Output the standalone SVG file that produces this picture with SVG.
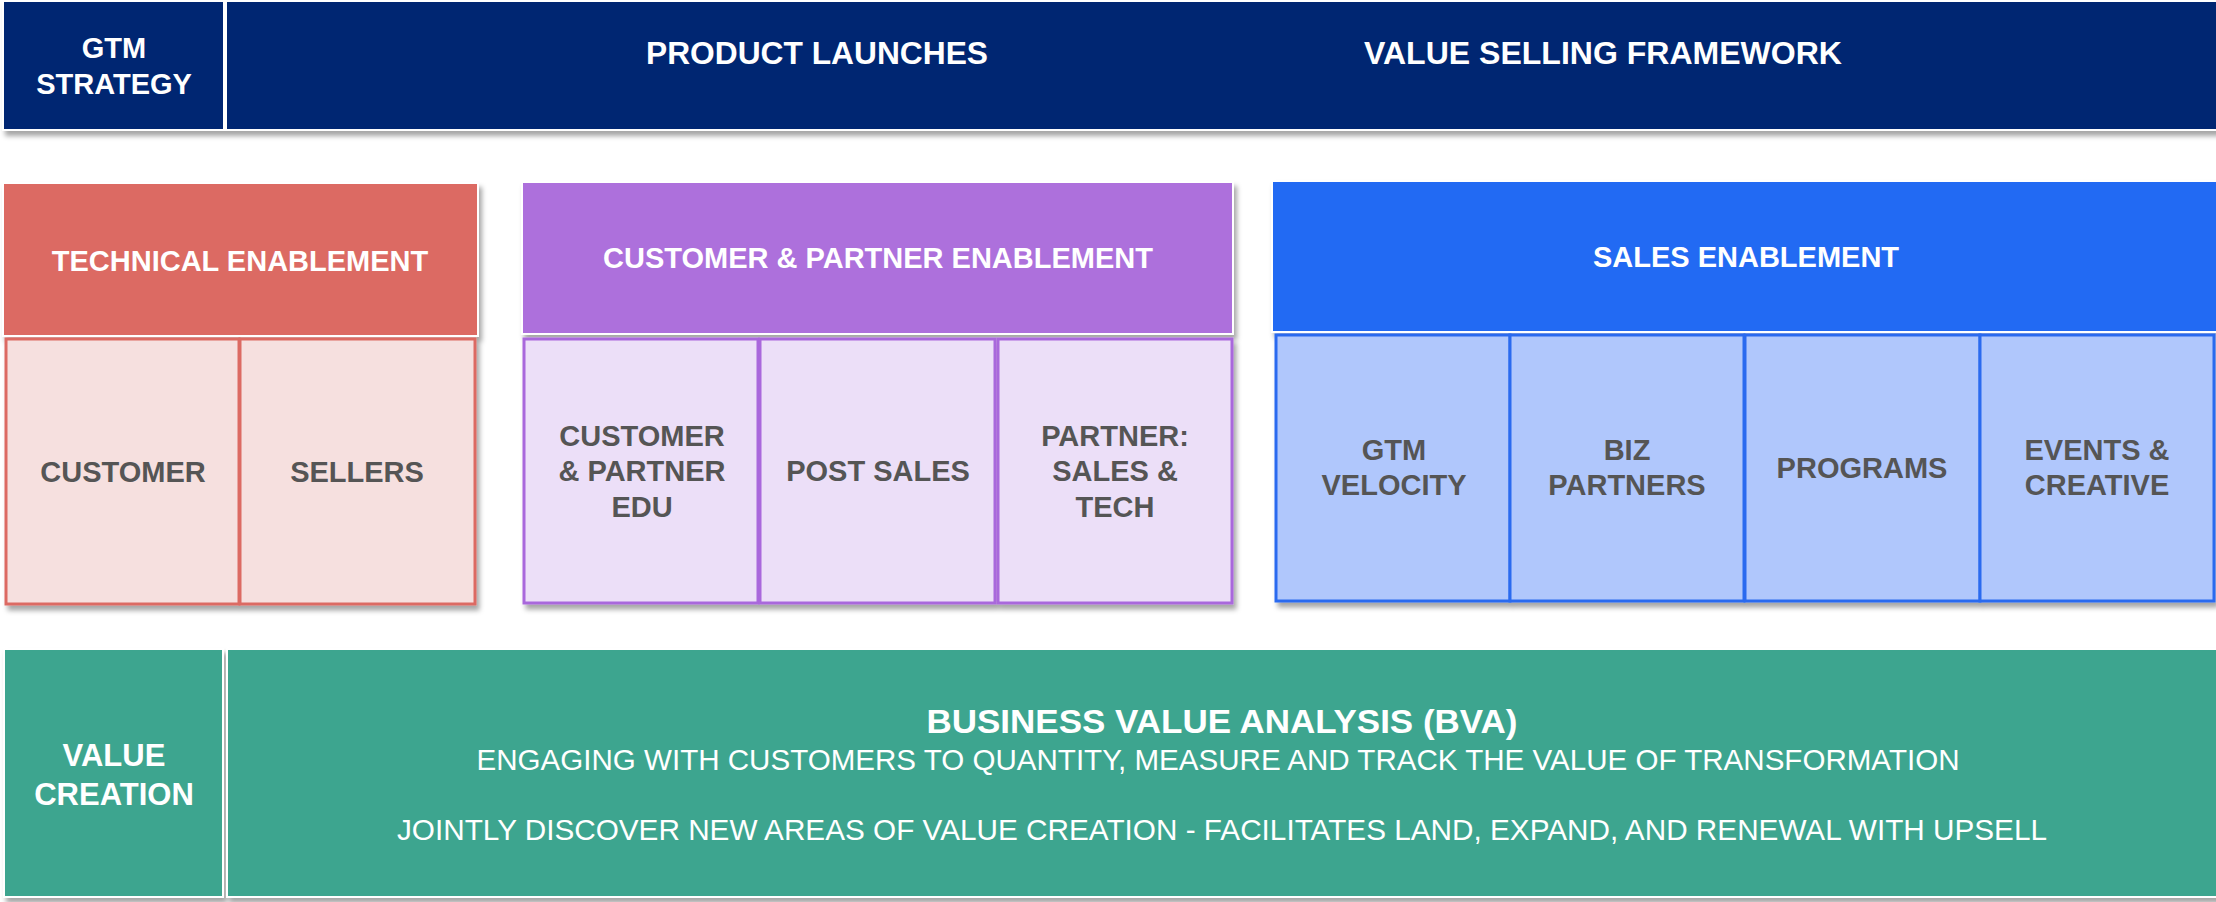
<svg xmlns="http://www.w3.org/2000/svg" width="2216" height="902" viewBox="0 0 2216 902">
<defs>
<filter id="sh" x="-5%" y="-5%" width="110%" height="115%">
<feDropShadow dx="3" dy="5" stdDeviation="2.5" flood-color="#000" flood-opacity="0.35"/>
</filter>
<style>
text{font-family:"Liberation Sans",Arial,sans-serif;text-anchor:middle}
.w{fill:#fff;font-weight:bold;font-size:29px}
.g{fill:#555555;font-weight:bold;font-size:29px}
.top{fill:#fff;font-weight:bold;font-size:32px}
.navy{fill:#012672;stroke:#fff;stroke-width:2}
.redh{fill:#dc6a63;stroke:#fff;stroke-width:2}
.reds{fill:#f6e0df;stroke:#dc6a63;stroke-width:3}
.purh{fill:#ad6fdc;stroke:#fff;stroke-width:2}
.purs{fill:#ecdff8;stroke:#a967dc;stroke-width:3}
.bluh{fill:#246bf3;stroke:#fff;stroke-width:2}
.blus{fill:#b0c7fc;stroke:#2a6bef;stroke-width:3}
.grn{fill:#3ca58f;stroke:#fff;stroke-width:2}
.bt{fill:#fff;font-size:30px}
</style>
</defs>
<rect width="2216" height="902" fill="#fff"/>

<g id="top-banner" filter="url(#sh)">
<rect class="navy" x="3" y="1" width="221" height="129"/>
<rect class="navy" x="226" y="1" width="1994" height="129"/>
</g>
<g id="gtm-strategy">
<text class="w" x="114" y="58">GTM</text>
<text class="w" x="114" y="94">STRATEGY</text>
</g>
<g id="product-launches"><text class="top" x="817" y="64" textLength="342" lengthAdjust="spacingAndGlyphs">PRODUCT LAUNCHES</text></g>
<g id="value-selling"><text class="top" x="1603" y="64" textLength="478" lengthAdjust="spacingAndGlyphs">VALUE SELLING FRAMEWORK</text></g>

<g id="technical-enablement">
<g filter="url(#sh)">
<rect class="redh" x="3" y="183" width="475" height="153"/>
<rect class="reds" x="6" y="339" width="233" height="265"/>
<rect class="reds" x="240" y="339" width="235" height="265"/>
</g>
<text class="w" x="240" y="271">TECHNICAL ENABLEMENT</text>
</g>
<g id="tech-customer"><text class="g" x="123" y="482">CUSTOMER</text></g>
<g id="tech-sellers"><text class="g" x="357" y="482">SELLERS</text></g>

<g id="customer-partner-enablement">
<g filter="url(#sh)">
<rect class="purh" x="522" y="182" width="711" height="152"/>
<rect class="purs" x="524" y="339" width="234" height="264"/>
<rect class="purs" x="760" y="339" width="235" height="264"/>
<rect class="purs" x="998" y="339" width="234" height="264"/>
</g>
<text class="w" x="878" y="268">CUSTOMER &amp; PARTNER ENABLEMENT</text>
</g>
<g id="cp-edu">
<text class="g" x="642" y="446">CUSTOMER</text>
<text class="g" x="642" y="481">&amp; PARTNER</text>
<text class="g" x="642" y="517">EDU</text>
</g>
<g id="post-sales"><text class="g" x="878" y="481">POST SALES</text></g>
<g id="partner-sales-tech">
<text class="g" x="1115" y="446">PARTNER:</text>
<text class="g" x="1115" y="481">SALES &amp;</text>
<text class="g" x="1115" y="517">TECH</text>
</g>

<g id="sales-enablement">
<g filter="url(#sh)">
<rect class="bluh" x="1272" y="181" width="950" height="151"/>
<rect class="blus" x="1276" y="335" width="234" height="266"/>
<rect class="blus" x="1510" y="335" width="234" height="266"/>
<rect class="blus" x="1745" y="335" width="235" height="266"/>
<rect class="blus" x="1980" y="335" width="234" height="266"/>
</g>
<text class="w" x="1746" y="267">SALES ENABLEMENT</text>
</g>
<g id="gtm-velocity">
<text class="g" x="1394" y="460">GTM</text>
<text class="g" x="1394" y="495">VELOCITY</text>
</g>
<g id="biz-partners">
<text class="g" x="1627" y="460">BIZ</text>
<text class="g" x="1627" y="495">PARTNERS</text>
</g>
<g id="programs"><text class="g" x="1862" y="478">PROGRAMS</text></g>
<g id="events-creative">
<text class="g" x="2097" y="460">EVENTS &amp;</text>
<text class="g" x="2097" y="495">CREATIVE</text>
</g>

<g id="value-creation-band" filter="url(#sh)">
<rect class="grn" x="4" y="649" width="219" height="248"/>
<rect class="grn" x="227" y="649" width="1993" height="248"/>
</g>
<g id="value-creation">
<text class="w" x="114" y="766" style="font-size:31px">VALUE</text>
<text class="w" x="114" y="805" style="font-size:31px">CREATION</text>
</g>
<g id="bva">
<text class="w" x="1222" y="733" style="font-size:33px" textLength="591" lengthAdjust="spacingAndGlyphs">BUSINESS VALUE ANALYSIS (BVA)</text>
<text class="bt" x="1218" y="770" textLength="1483" lengthAdjust="spacingAndGlyphs">ENGAGING WITH CUSTOMERS TO QUANTITY, MEASURE AND TRACK THE VALUE OF TRANSFORMATION</text>
<text class="bt" x="1222" y="840" textLength="1650" lengthAdjust="spacingAndGlyphs">JOINTLY DISCOVER NEW AREAS OF VALUE CREATION - FACILITATES LAND, EXPAND, AND RENEWAL WITH UPSELL</text>
</g>
<g id="connectors"></g>
</svg>
